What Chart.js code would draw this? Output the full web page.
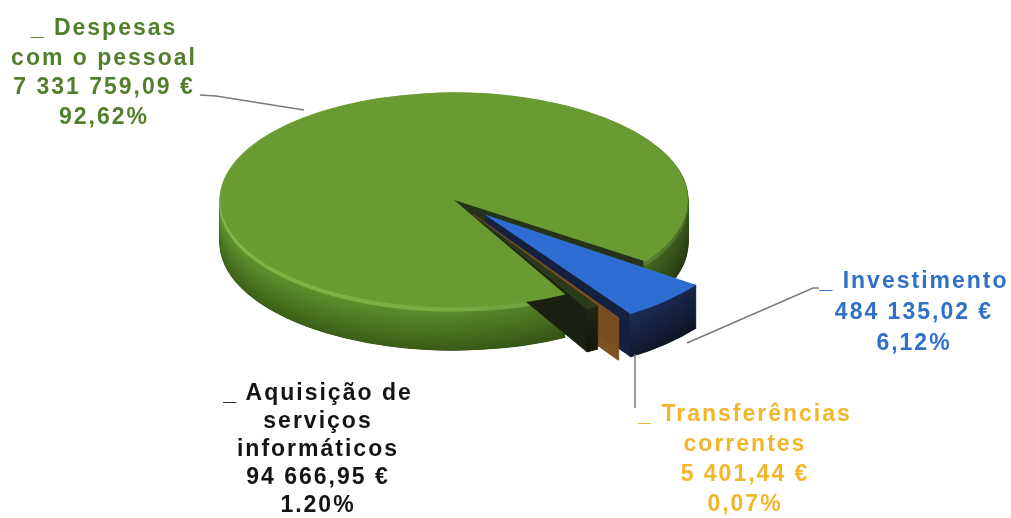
<!DOCTYPE html>
<html>
<head>
<meta charset="utf-8">
<script src="https://cdn.jsdelivr.net/npm/chart.js@4.4.1/dist/chart.umd.min.js"></script>
<style>
    html, body { margin: 0; padding: 0; background: #fff; overflow: hidden; }
    #wrap { position: relative; width: 1011px; height: 518px; }
    #wrap canvas { position: absolute; left: 0; top: 0; }
    .lbl {
        position: absolute;
        font-family: "Liberation Sans", Arial, sans-serif;
        font-weight: bold;
        font-size: 23px;
        letter-spacing: 2px;
        text-align: center;
        white-space: nowrap;
        transform: translateX(-50%);
    }
</style>
</head>
<body>
<div id="wrap"><canvas id="c" width="1011" height="518"></canvas></div>
<script>
// ─── Data ─────────────────────────────────────────────────────────────────────
// clockwise from the exploded blue slice
const labelLines = [
    ["_ Investimento"],
    ["_ Transferências", "correntes"],
    ["_ Aquisição de", "serviços", "informáticos"],
    ["_ Despesas", "com o pessoal"],
];
const amounts   = [484135.02, 5401.44, 94666.95, 7331759.09];
const pctLabels = ["6,12%", "0,07%", "1.20%", "92,62%"];

// ─── Styling ──────────────────────────────────────────────────────────────────
const topColors  = ["#2e6dd2", "#a06a28", "#2c3a1c", "#6a9b33"];
const rimTop     = ["#22386a", "#8a5a24", "#222b16", "#5e922c"];
const rimBottom  = ["#131d36", "#6a4419", "#151a0d", "#3a5c18"];
const cutColors  = ["#15213f", "#7b5020", "#1a2111", "#25341a"];
const textColors = ["#3170c8", "#f3b52a", "#141414", "#527f2b"];
// Chart.js v4 moves an arc by offset / 4
const offsets    = [176, 140, 80, 0];

const DEPTH = 43;          // thickness of the pie, px
const SQUASH = 0.459;      // vertical flattening of the disc
const drawOrder = [3, 0, 1, 2];   // back to front

// label blocks: centre x, top y, line height
const labelBoxes = [
    { x: 914, y: 265, lh: 31 },
    { x: 745, y: 398, lh: 30 },
    { x: 318, y: 378, lh: 28 },
    { x: 104, y: 13,  lh: 29.7 },
];
// leader lines
const leaders = [
    [[687, 343], [813, 288], [819, 288]],
    [[635, 354], [635, 408]],
    null,
    [[200, 95], [216, 96], [304, 110]],
];

function fmtEuro(v) {
    const [i, d] = v.toFixed(2).split(".");
    return i.replace(/\B(?=(\d{3})+(?!\d))/g, " ") + "," + d + " €";
}

function hexRgb(h) {
    const n = parseInt(h.slice(1), 16);
    return [(n >> 16) & 255, (n >> 8) & 255, n & 255];
}
function mix(a, b, t) {
    const A = hexRgb(a), B = hexRgb(b);
    return A.map((v, k) => Math.round(v + (B[k] - v) * t));
}
function rgb(c, f) {
    return `rgb(${c.map(v => Math.max(0, Math.min(255, Math.round(v * f)))).join(",")})`;
}

function squash(ctx, cx, cy) {
    ctx.translate(cx, cy);
    ctx.scale(1, SQUASH);
    ctx.translate(-cx, -cy);
}

// same geometry the ArcElement uses when it draws an offset slice
function arcGeom(arc) {
    const p = arc.getProps(["x", "y", "startAngle", "endAngle", "outerRadius", "circumference"], true);
    const off = (arc.options.offset || 0) / 4;
    const mid = (p.startAngle + p.endAngle) / 2;
    const fix = 1 - Math.sin(Math.min(Math.PI, p.circumference || 0));
    const rOff = off * fix;
    const r = p.outerRadius + rOff;
    const alpha = p.endAngle - p.startAngle;
    const beta = Math.max(0.001, alpha * r - rOff / Math.PI) / r;
    const a0 = (alpha - beta) / 2;
    return {
        ox: p.x + Math.cos(mid) * off,
        oy: p.y + Math.sin(mid) * off,
        r,
        s: p.startAngle + a0,
        e: p.endAngle - a0,
    };
}

// ─── 3D pie plugin: extrude the slices, then flatten the top faces ────────────
const pie3d = {
    id: "pie3d",
    beforeDatasetsDraw(chart) {
        const ctx = chart.ctx;
        const meta = chart.getDatasetMeta(0);
        const cx = meta.data[0].x, cy = meta.data[0].y;

        drawOrder.forEach(i => {
            const g = arcGeom(meta.data[i]);
            // cut faces / body
            for (let d = DEPTH; d >= 1; d--) {
                ctx.save();
                ctx.translate(0, d);
                squash(ctx, cx, cy);
                ctx.beginPath();
                ctx.moveTo(g.ox, g.oy);
                ctx.arc(g.ox, g.oy, g.r, g.s, g.e);
                ctx.closePath();
                ctx.fillStyle = cutColors[i];
                ctx.fill();
                if (i === 1) {
                    ctx.lineWidth = 2;
                    ctx.strokeStyle = cutColors[i];
                    ctx.stroke();
                }
                ctx.restore();
            }
            // outer rim
            for (let d = DEPTH; d >= 0; d--) {
                const t = d / DEPTH;
                const base = d <= 4 && i === 3 ? hexRgb("#78ae42") : mix(rimTop[i], rimBottom[i], t);
                const grad = ctx.createLinearGradient(cx - g.r, 0, cx + g.r, 0);
                grad.addColorStop(0, rgb(base, 1.05));
                grad.addColorStop(0.45, rgb(base, 1.0));
                grad.addColorStop(0.8, rgb(base, 0.88));
                grad.addColorStop(1, rgb(base, 0.62));
                ctx.save();
                ctx.translate(0, d);
                squash(ctx, cx, cy);
                ctx.beginPath();
                ctx.arc(g.ox, g.oy, g.r - 1.5, g.s, g.e);
                ctx.lineWidth = 4;
                ctx.strokeStyle = grad;
                ctx.stroke();
                ctx.restore();
            }
        });

        ctx.save();
        squash(ctx, cx, cy);
    },
    afterDatasetsDraw(chart) {
        chart.ctx.restore();
    },
    afterDraw(chart) {
        const ctx = chart.ctx;
        ctx.save();
        ctx.strokeStyle = "#7a7a7a";
        ctx.lineWidth = 1.5;
        leaders.forEach(pts => {
            if (!pts) return;
            ctx.beginPath();
            pts.forEach(([x, y], k) => (k ? ctx.lineTo(x, y) : ctx.moveTo(x, y)));
            ctx.stroke();
        });
        ctx.restore();
    },
};

new Chart(document.getElementById("c"), {
    type: "pie",
    data: {
        labels: labelLines.map(l => l.join(" ").replace("_ ", "")),
        datasets: [{
            data: amounts,
            backgroundColor: topColors,
            borderWidth: 0,
            offset: offsets,
            radius: 234,
            clip: false,
        }],
    },
    options: {
        responsive: false,
        animation: false,
        events: [],
        rotation: 125,
        layout: { padding: { left: 0, right: 103, top: 0, bottom: 118 } },
        plugins: { legend: { display: false }, tooltip: { enabled: false } },
    },
    plugins: [pie3d],
});

// ─── Labels ───────────────────────────────────────────────────────────────────
const wrap = document.getElementById("wrap");
labelLines.forEach((lines, i) => {
    const box = labelBoxes[i];
    const div = document.createElement("div");
    div.className = "lbl";
    div.style.left = box.x + "px";
    div.style.top = box.y + "px";
    div.style.lineHeight = box.lh + "px";
    div.style.color = textColors[i];
    [...lines, fmtEuro(amounts[i]), pctLabels[i]].forEach(t => {
        const row = document.createElement("div");
        row.textContent = t;
        div.appendChild(row);
    });
    wrap.appendChild(div);
});
</script>
</body>
</html>
